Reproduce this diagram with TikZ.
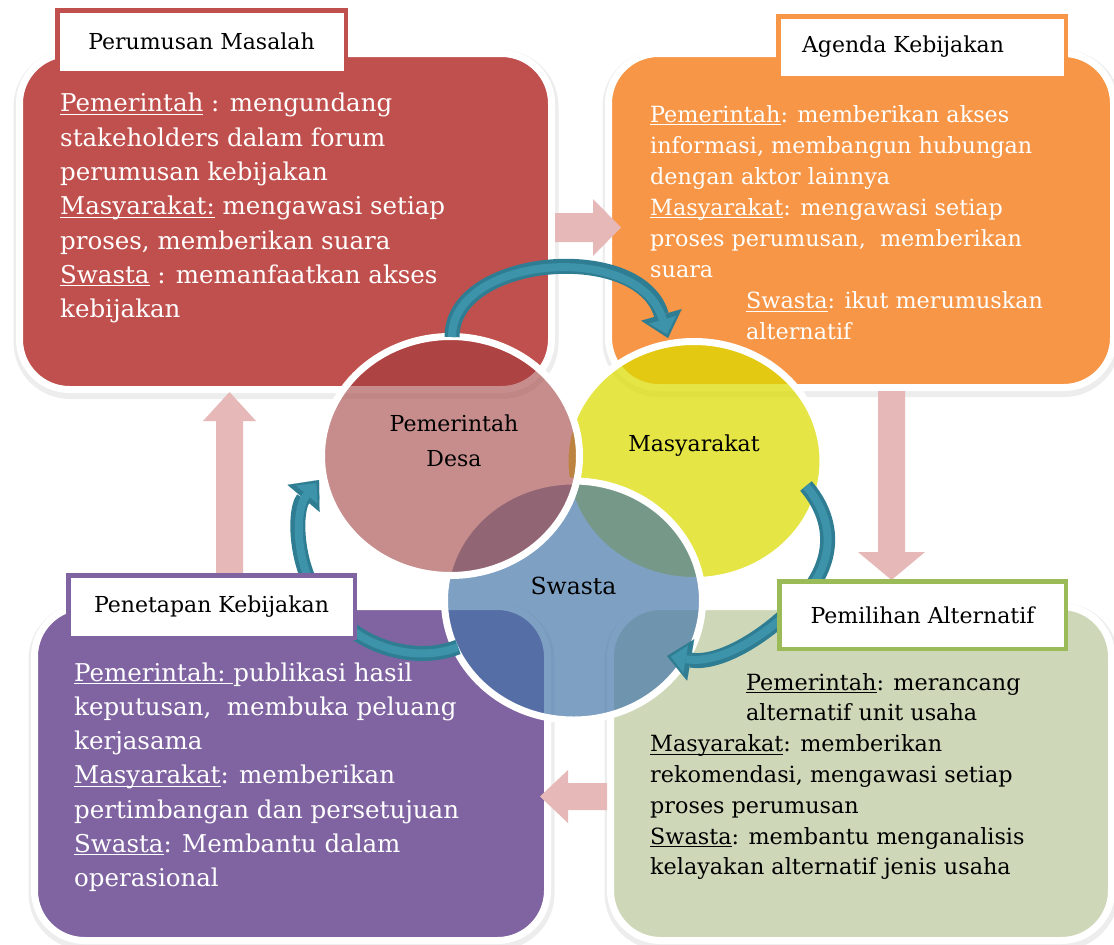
\documentclass[tikz,border=0pt]{standalone}
\usepackage{fontspec}
\setmainfont{DejaVu Serif}
\usetikzlibrary{arrows.meta,shapes.geometric,calc}
\definecolor{redbox}{HTML}{C0504D}
\definecolor{orangebox}{HTML}{F79646}
\definecolor{purplebox}{HTML}{8064A2}
\definecolor{greenbox}{HTML}{CED8B9}
\definecolor{greenline}{HTML}{9BBB59}
\definecolor{pinkarrow}{HTML}{E6B9B8}
\definecolor{tealdark}{HTML}{2E7D92}
\definecolor{tealmid}{HTML}{3D93AA}
\definecolor{pemc}{RGB}{160,59,59}
\definecolor{masc}{RGB}{220,220,0}
\definecolor{swac}{RGB}{66,116,168}
\newsavebox\ulbx
\newcommand\uln[1]{\sbox\ulbx{#1}\rlap{\rule[-3pt]{\wd\ulbx}{1.1pt}}\usebox\ulbx}
\tikzset{
  bigbox/.style={rectangle, rounded corners=50pt, draw=white, line width=7pt, inner sep=0pt,
    preaction={draw=black, draw opacity=0.07, line width=13pt, transform canvas={xshift=0.5pt,yshift=-3pt}}},
  titlebox/.style={rectangle, fill=white, line width=4.5pt, inner sep=0pt, font=\fontsize{22}{26}\selectfont},
  bodytxt/.style={anchor=north west, inner sep=0pt, align=left, text=white},
  vennc/.style={ellipse, minimum width=258pt, minimum height=239pt, draw=white, line width=7pt, inner sep=0pt, draw opacity=1},
  tealarrow/.style={draw=tealdark, line width=15pt, -{Triangle[length=24pt,width=42pt,line width=0.1pt]}},
  tealhi/.style={draw=tealmid, line width=8pt, shorten >=4pt, -{Triangle[length=15pt,width=28pt,line width=0.1pt]}},
  pinkarr/.style={fill=pinkarrow},
  circtxt/.style={inner sep=0pt, align=center, text=black},
}
\begin{document}
\begin{tikzpicture}[x=1pt,y=-1pt]
\fill[white] (0,0) rectangle (1114,945);
\useasboundingbox (0,0) rectangle (1114,945);

% main boxes
\node[bigbox, fill=redbox, minimum width=532pt, minimum height=336pt] (rbox) at (285.5,221.5) {};
\node[bigbox, fill=orangebox, minimum width=505pt, minimum height=334pt] (obox) at (861,220.5) {};
\node[bigbox, fill=purplebox, minimum width=513pt, minimum height=334pt] (pbox) at (291,773.5) {};
\node[bigbox, fill=greenbox, minimum width=501pt, minimum height=334pt] (gbox) at (861,773.5) {};

% body texts
\node[bodytxt, font=\fontsize{24.5}{34.3}\selectfont] (rtxt) at (60,87.7)
 {\strut\uln{Pemerintah} : mengundang\\stakeholders dalam forum\\perumusan kebijakan\\
  \uln{Masyarakat:} mengawasi setiap\\proses, memberikan suara\\
  \uln{Swasta} : memanfaatkan akses\\kebijakan};
\node[bodytxt, font=\fontsize{22.3}{31.1}\selectfont] (otxt) at (650,100.2)
 {\strut\uln{Pemerintah}: memberikan akses\\informasi, membangun hubungan\\dengan aktor lainnya\\
  \uln{Masyarakat}: mengawasi setiap\\proses perumusan,\ \ memberikan\\suara\\
  \hspace*{96pt}\uln{Swasta}: ikut merumuskan\\\hspace*{96pt}alternatif};
\node[bodytxt, font=\fontsize{24.5}{34.2}\selectfont] (ptxt) at (74,657.1)
 {\strut\uln{Pemerintah:\ }publikasi hasil\\keputusan,\ \ membuka peluang\\kerjasama\\
  \uln{Masyarakat}: memberikan\\pertimbangan dan persetujuan\\
  \uln{Swasta}: Membantu dalam\\operasional};
\node[bodytxt, text=black, font=\fontsize{22.3}{30.8}\selectfont] (gtxt) at (650,668.4)
 {\strut\hspace*{96pt}\uln{Pemerintah}: merancang\\\hspace*{96pt}alternatif unit usaha\\
  \uln{Masyarakat}: memberikan\\rekomendasi, mengawasi setiap\\proses perumusan\\
  \uln{Swasta}: membantu menganalisis\\kelayakan alternatif jenis usaha};

% pink block arrows between the stages
\fill[pinkarr] (555,213) -- (593,213) -- (593,199) -- (621,227.5) -- (593,256) -- (593,242) -- (555,242) -- cycle;
\fill[pinkarr] (878,391) -- (905,391) -- (905,552) -- (925,552) -- (891.5,580) -- (858,552) -- (878,552) -- cycle;
\fill[pinkarr] (607,783) -- (568,783) -- (568,770) -- (540,796.5) -- (568,823) -- (568,810) -- (607,810) -- cycle;
\fill[pinkarr] (216,575) -- (216,421) -- (203,421) -- (229.5,392) -- (256,421) -- (243,421) -- (243,575) -- cycle;

% Venn ellipses
\node[vennc, fill=masc, fill opacity=0.73] (mas) at (694,461) {};
\node[vennc, fill=swac, fill opacity=0.68] (swa) at (573.5,600.5) {};
\node[vennc, fill=pemc, fill opacity=0.58] (pem) at (450.5,456) {};

% teal cycle arrows
\coordinate (a1s) at (452,337);
\coordinate (a1e) at (668,338);
\coordinate (a2s) at (806,486);
\coordinate (a2e) at (667,656);
\coordinate (a3s) at (458,647);
\coordinate (a3e) at (319,480);
\foreach \st in {tealarrow,tealhi}{
  \draw[\st] (a1s) .. controls (452,255) and (640,240) .. (a1e);
  \draw[\st] (a2s) .. controls (835,520) and (835,560) .. (805,595) .. controls (770,635) and (720,665) .. (a2e);
  \draw[\st] (a3s) .. controls (420,662) and (370,650) .. (340,620) .. controls (295,590) and (292,512) .. (a3e);
}

% title boxes
\node[titlebox, draw=redbox, minimum width=288.5pt, minimum height=62.5pt] (rtitle) at (201.5,41.5) {Perumusan Masalah};
\node[titlebox, draw=orangebox, minimum width=287.5pt, minimum height=61.5pt] (otitle) at (922,47) {Agenda Kebijakan\hspace*{38pt}};
\node[titlebox, draw=purplebox, minimum width=286.5pt, minimum height=62.5pt] (ptitle) at (211.5,606.5) {Penetapan Kebijakan};
\node[titlebox, draw=greenline, minimum width=286.5pt, minimum height=67.5pt] (gtitle) at (922.5,615) {Pemilihan Alternatif};

% Venn labels
\node[circtxt, font=\fontsize{22}{35}\selectfont] (pemtxt) at (454,441) {Pemerintah\\Desa};
\node[circtxt, font=\fontsize{22}{26}\selectfont] (mastxt) at (694,446) {Masyarakat};
\node[circtxt, font=\fontsize{23.5}{28}\selectfont] (swatxt) at (573.5,586) {Swasta};
\end{tikzpicture}
\end{document}
